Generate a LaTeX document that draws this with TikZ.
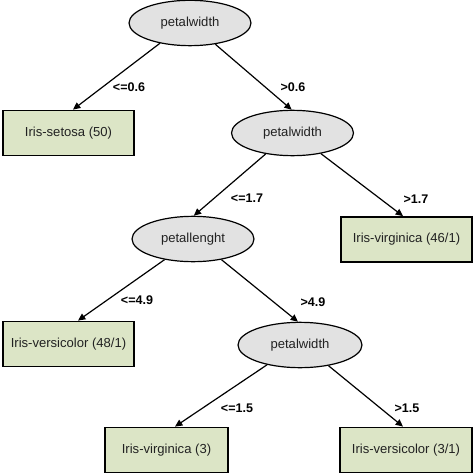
\documentclass[tikz,border=0pt]{standalone}
\usepackage{fontspec}
\setmainfont{Liberation Sans}
\usetikzlibrary{arrows.meta,calc,shapes.geometric}
\definecolor{leaffill}{HTML}{DCE5C6}
\definecolor{splitfill}{HTML}{E2E2E2}
\definecolor{txt}{HTML}{222222}
\begin{document}
\begin{tikzpicture}[x=0.75pt,y=-0.75pt,
  split/.style={ellipse,draw=black,line width=0.9pt,fill=splitfill,inner sep=0pt,
    minimum width=91.5pt,minimum height=34pt,text=txt,font=\fontsize{9.8}{12}\selectfont},
  leaf/.style={rectangle,draw=black,line width=1.1pt,fill=leaffill,inner sep=0pt,
    minimum width=98.25pt,minimum height=34pt,text=txt,font=\fontsize{9.8}{12}\selectfont},
  cond/.style={inner sep=0pt,font=\fontsize{9.4}{11}\selectfont\bfseries},
  edge/.style={line width=0.9pt,-{Triangle[length=5.5pt,width=5pt]}}]
\useasboundingbox (0,0) rectangle (474,474);
% split nodes
\node[split] (root) at (190,23) {petalwidth};
\node[split] (pw2) at (292.5,133) {petalwidth};
\node[split] (pl) at (193,239) {petallenght};
\node[split,minimum width=93pt] (pw3) at (300,345) {petalwidth};
% leaves
\node[leaf] (setosa) at (68.5,133) {Iris-setosa (50)};
\node[leaf] (virg46) at (406.5,239.5) {Iris-virginica (46/1)};
\node[leaf] (vers48) at (68.5,344) {Iris-versicolor (48/1)};
\node[leaf,minimum width=92.25pt] (virg3) at (166.5,450) {Iris-virginica (3)};
\node[leaf,minimum width=99pt] (vers31) at (406,450) {Iris-versicolor (3/1)};
% edges
\draw[edge] (root.214) -- ($(setosa.north)+(4.5,0)$);
\draw[edge] (root.320) -- (pw2.92);
\draw[edge] (pw2.218) -- (pl.88);
\draw[edge] (pw2.324) -- ($(virg46.north)+(-3.5,0)$);
\draw[edge] (pl.216) -- ($(vers48.north)+(9.5,0)$);
\draw[edge] (pl.324) -- (pw3.95);
\draw[edge] (pw3.211) -- ($(virg3.north)+(8.5,0)$);
\draw[edge] (pw3.324) -- ($(vers31.north)+(-3,0)$);
% conditions
\node[cond] (c1) at (129,87) {<=0.6};
\node[cond] (c2) at (293,87) {>0.6};
\node[cond] (c3) at (247,198) {<=1.7};
\node[cond] (c4) at (416,199) {>1.7};
\node[cond] (c5) at (137,300) {<=4.9};
\node[cond] (c6) at (313,302) {>4.9};
\node[cond] (c7) at (237,408) {<=1.5};
\node[cond] (c8) at (407,408) {>1.5};
\end{tikzpicture}
\end{document}
